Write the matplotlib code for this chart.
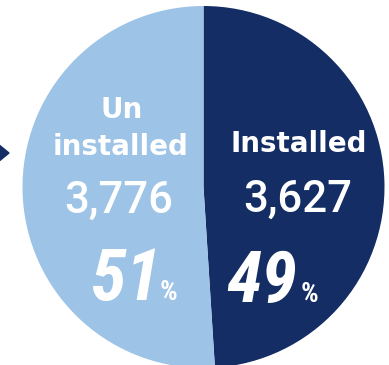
import matplotlib
matplotlib.use('Agg')
import matplotlib.pyplot as plt
from matplotlib.patches import Polygon

# Data
labels = ['Installed', 'Un\ninstalled']
counts = [3627, 3776]
pcts = [49, 51]
colors = ['#142D64', '#9DC3E6']

W, H = 389, 365
fig = plt.figure(figsize=(W / 100, H / 100), dpi=100)
ax = fig.add_axes([0, 0, 1, 1])

ax.pie(counts, colors=colors, startangle=90, counterclock=False,
       center=(203.5, 178), radius=181, frame=True,
       wedgeprops=dict(linewidth=0))
ax.set_xlim(0, W)
ax.set_ylim(0, H)
ax.set_aspect('equal')
ax.axis('off')

# small arrow on the left
ax.add_patch(Polygon([[-2, 221], [9, 212], [-2, 203]], closed=True,
                     color='#142D64', clip_on=False))

cond = ['Roboto Condensed', 'DejaVu Sans']
lbl = dict(color='white', family='DejaVu Sans', fontweight='bold', ha='center', va='baseline')
num = dict(color='white', family='Roboto', fontweight='medium', ha='center', va='baseline')
pct = dict(color='white', family=cond, fontweight='black', style='italic',
           ha='center', va='baseline')
sign = dict(color='white', family=cond, fontweight='bold',
            ha='center', va='baseline')

# left slice (un installed)
ax.text(121.5, 247, 'Un', fontsize=20, **lbl)
ax.text(120.5, 210, 'installed', fontsize=20, **lbl)
ax.text(118.5, 152, f'{counts[1]:,}', fontsize=31.5, **num)
ax.text(126, 65, f'{pcts[1]}', fontsize=52, **pct)
ax.text(169, 65, '%', fontsize=20, **sign)

# right slice (installed)
ax.text(298.5, 213, labels[0], fontsize=20, **lbl)
ax.text(297.5, 153, f'{counts[0]:,}', fontsize=31.5, **num)
ax.text(262, 63, f'{pcts[0]}', fontsize=52, **pct)
ax.text(310, 63, '%', fontsize=20, **sign)

fig.savefig('out.png', dpi=100)
